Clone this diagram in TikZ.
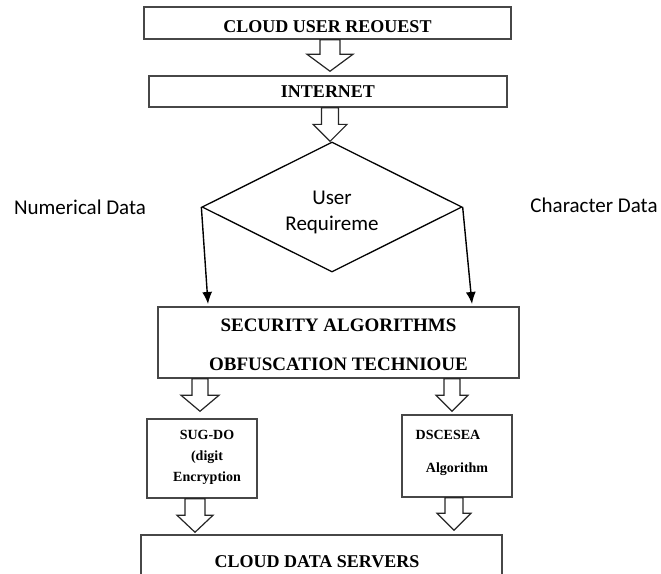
\documentclass[tikz,border=0pt]{standalone}
\usepackage{fontspec}
\setmainfont{Liberation Serif}
\newfontfamily\calib{Carlito}
\usetikzlibrary{shapes.geometric,arrows.meta,calc}
\tikzset{
  box/.style={draw=black!72, line width=1.5pt, fill=white, inner sep=0pt},
  bigtxt/.style={font=\bfseries\fontsize{18}{22}\selectfont},
  sans/.style={font=\calib\fontsize{21}{26}\selectfont},
  hollow/.style n args={3}{draw=black!85, line width=1.2pt, fill=white, line join=miter,
    to path={let \p1=(\tikztostart), \p2=(\tikztotarget) in
      ({\x1-#1},{\y1}) -- ({\x1+#1},{\y1}) -- ({\x1+#1},{\y2+#3}) -- ({\x1+#2},{\y2+#3})
      -- ({\x1},{\y2}) -- ({\x1-#2},{\y2+#3}) -- ({\x1-#1},{\y2+#3}) -- cycle}},
  dart/.style={draw=black, line width=1.4pt, -{Latex[length=12pt,width=10pt]}},
}
\begin{document}
\begin{tikzpicture}[x=1pt,y=-1pt]
\path[use as bounding box, clip] (0,0) rectangle (661,573);

\node[box, bigtxt, minimum width=367pt, minimum height=32pt] (req) at (327.5,23)
  {\raisebox{-3.5pt}[\height][\depth]{CLOUD USER REOUEST}};
\node[box, bigtxt, minimum width=358pt, minimum height=31pt] (net) at (328,91.5) {INTERNET};

\node[draw=black, line width=1.3pt, shape=diamond, aspect=2, inner sep=0pt,
      minimum width=260pt, minimum height=130pt, sans] (ur) at (332,207)
  {\raisebox{-5pt}[\height][\depth]{\begin{tabular}{@{}c@{}}User\\Requireme\end{tabular}}};

\node[sans] (num) at (80,207) {Numerical Data};
\node[sans] (chr) at (594,205) {Character Data};

\node[box, minimum width=361pt, minimum height=71pt, font=\bfseries\fontsize{19}{23}\selectfont] (sec) at (338.5,342.5)
  {\raisebox{-4pt}[\height][\depth]{\begin{tabular}{@{}c@{}}SECURITY ALGORITHMS\\[16pt]OBFUSCATION TECHNIOUE\end{tabular}}};

\node[box, minimum width=110pt, minimum height=79pt, font=\bfseries\fontsize{14}{21}\selectfont] (sug) at (202,458.5)
  {\raisebox{2.5pt}[\height][\depth]{\hspace*{10pt}\begin{tabular}{@{}c@{}}SUG-DO\\(digit\\Encryption\end{tabular}}};

\node[box, minimum width=110pt, minimum height=82pt, font=\bfseries\fontsize{14}{33}\selectfont] (dsc) at (457,456)
  {\raisebox{6.5pt}[\height][\depth]{\begin{tabular}{@{}c@{}}DSCESEA\hspace*{18pt}\\Algorithm\end{tabular}}};

\node[box, bigtxt, minimum width=361pt, minimum height=54pt] (srv) at (321.5,562)
  {\hspace*{-9pt}CLOUD DATA SERVERS};

\coordinate (la) at (208,304);
\coordinate (ra) at (472,304);
\draw[dart] (ur.west) -- (la);
\draw[dart] (ur.east) -- (ra);

\draw[hollow={10pt}{23pt}{17pt}] ($(req.south)+(2.5,0)$) to ([yshift=4pt]net.north);
\draw[hollow={8.5pt}{17pt}{17pt}] ($(net.south)+(2,0)$) to (ur.north);
\draw[hollow={8pt}{19pt}{16pt}] ($(sug.north |- sec.south)+(-2,0)$) to ([yshift=7pt]sug.north);
\draw[hollow={8pt}{16pt}{16pt}] ($(dsc.north |- sec.south)+(-5,0)$) to ([yshift=3pt]dsc.north);
\draw[hollow={10pt}{18pt}{17pt}] ($(sug.south)+(-7,0)$) to ([yshift=2pt]srv.north);
\draw[hollow={9pt}{17pt}{17pt}] ($(dsc.south)+(-3,0)$) to ([yshift=4pt]srv.north);
\end{tikzpicture}
\end{document}
